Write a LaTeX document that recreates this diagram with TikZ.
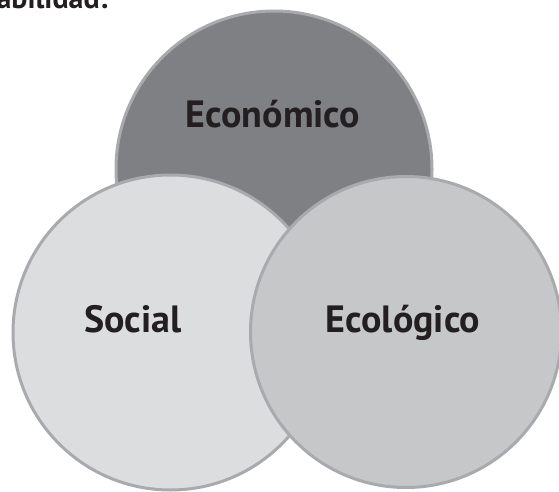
\documentclass[tikz,border=0pt]{standalone}
\usepackage{fontspec}
\setmainfont{PT Sans}
\definecolor{econ}{HTML}{7F8084}
\definecolor{soc}{HTML}{DCDDDF}
\definecolor{eco}{HTML}{C6C7C9}
\definecolor{rim}{HTML}{A8AAAD}
\definecolor{ink}{HTML}{231F20}
\tikzset{
  sphere/.style={circle, draw=rim, line width=3pt, inner sep=0pt, minimum size=#1},
  lbl/.style={font=\fontsize{38}{42}\selectfont\bfseries, text=ink, anchor=base, inner sep=0pt},
}
\begin{document}
\begin{tikzpicture}[x=1pt,y=-1pt]
\useasboundingbox (0,0) rectangle (559,492);
\clip (0,0) rectangle (559,492);
\node[lbl, font=\fontsize{30}{34}\selectfont\bfseries, anchor=base east] (head) at (108,9) {abilidad:};
\node[sphere=316pt, fill=econ] (economico) at (274,169) {};
\node[sphere=315pt, fill=soc] (social) at (170.5,332.5) {};
\node[sphere=311pt, fill=eco] (ecologico) at (406,332) {};
\node[lbl] (t1) at (273,128) {Económico};
\node[lbl] (t2) at (133,332) {Social};
\node[lbl] (t3) at (403,332) {Ecológico};
\end{tikzpicture}
\end{document}
